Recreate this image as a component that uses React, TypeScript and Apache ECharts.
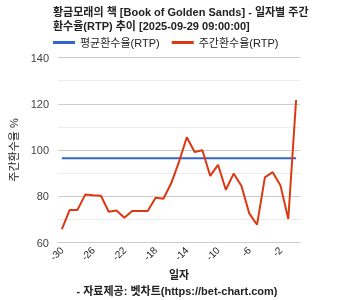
import React, { useEffect, useRef } from "react";
import * as echarts from "echarts";

const days: string[] = [];
for (let d = -30; d <= 0; d++) days.push(String(d));

const weeklyRTP = [
  65.8, 74.1, 74.1, 80.8, 80.4, 80.2, 73.3, 73.8, 70.7, 73.6,
  73.6, 73.6, 79.4, 78.9, 85.6, 94.9, 105.5, 99.1, 99.9, 88.8,
  93.6, 82.8, 89.8, 84.4, 72.6, 67.7, 88.2, 90.4, 84.6, 70.2, 121.6,
];
const avgValue = 96.4;
const avgRTP = days.map(() => avgValue);

const FONT = "Arial, 'Liberation Sans', 'Noto Sans CJK KR', sans-serif";

export default function App() {
  const ref = useRef<HTMLDivElement>(null);
  useEffect(() => {
    if (!ref.current) return;
    const chart = echarts.init(ref.current, undefined, { renderer: "svg" });
    chart.setOption({
      animation: false,
      textStyle: { fontFamily: FONT },
      title: {
        text: "황금모래의 책 [Book of Golden Sands] - 일자별 주간\n환수율(RTP) 추이 [2025-09-29 09:00:00]",
        left: 53,
        top: 5,
        padding: 0,
        textStyle: { fontSize: 11, fontWeight: "bold", color: "#222", lineHeight: 14, fontFamily: FONT },
      },
      legend: {
        left: 53,
        top: 37,
        padding: 0,
        icon: "rect",
        itemWidth: 22,
        itemHeight: 3,
        itemGap: 12,
        textStyle: { fontSize: 11, color: "#222", fontFamily: FONT },
        data: ["평균환수율(RTP)", "주간환수율(RTP)"],
      },
      grid: { left: 53, right: 53, top: 57.5, bottom: 57.5 },
      xAxis: {
        type: "category",
        data: days,
        boundaryGap: true,
        name: "일자",
        nameLocation: "middle",
        nameGap: 26,
        nameTextStyle: { fontSize: 11, color: "#222", fontFamily: FONT, fontWeight: "bold" },
        axisLine: { show: true, lineStyle: { color: "#ccc" } },
        axisTick: { show: false },
        axisLabel: { interval: 3, rotate: 45, fontSize: 10, color: "#222", margin: 6 },
      },
      yAxis: {
        type: "value",
        min: 60,
        max: 140,
        interval: 20,
        name: "주간환수율 %",
        nameLocation: "middle",
        nameGap: 39,
        nameTextStyle: { fontSize: 11, color: "#222", fontFamily: FONT },
        axisLine: { show: false },
        axisTick: { show: false },
        axisLabel: { fontSize: 11, color: "#444", margin: 9 },
        splitLine: { lineStyle: { color: "#ccc" } },
        minorTick: { show: false, splitNumber: 2 },
        minorSplitLine: { show: true, lineStyle: { color: "#ebebeb" } },
      },
      series: [
        {
          name: "평균환수율(RTP)",
          type: "line",
          data: avgRTP,
          showSymbol: false,
          symbol: "none",
          lineStyle: { color: "#3366cc", width: 2 },
          itemStyle: { color: "#3366cc" },
        },
        {
          name: "주간환수율(RTP)",
          type: "line",
          data: weeklyRTP,
          showSymbol: false,
          symbol: "none",
          lineStyle: { color: "#dc3912", width: 2 },
          itemStyle: { color: "#dc3912" },
        },
      ],
      graphic: [
        {
          type: "text",
          x: 177,
          y: 291,
          style: {
            text: "- 자료제공: 벳차트(https://bet-chart.com)",
            fontSize: 11,
            fontWeight: "bold",
            fill: "#222",
            fontFamily: FONT,
            align: "center",
            verticalAlign: "middle",
          },
        },
      ],
    });
    return () => chart.dispose();
  }, []);
  return (
    <div
      ref={ref}
      style={{ position: "fixed", left: 0, top: 0, width: 353, height: 300 }}
    />
  );
}
